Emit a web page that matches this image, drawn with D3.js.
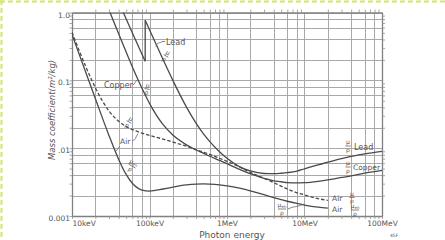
<!DOCTYPE html>
<html>
<head>
<meta charset="utf-8">
<script src="https://cdn.jsdelivr.net/npm/d3@7"></script>
<style>
  body { margin: 0; background: #fff; }
  svg text { font-family: "DejaVu Sans", sans-serif; fill: #555; }
</style>
</head>
<body>
<div id="chart"></div>
<script>
// photon energy in MeV, coefficients in m^2/kg
var leadLowEnergy = [0.04, 0.05, 0.06, 0.08, 0.088];
var leadLowMu = [1.44, 0.804, 0.502, 0.242, 0.191];
var leadHighEnergy = [0.088, 0.1, 0.15, 0.2, 0.3, 0.4, 0.5, 0.6, 0.8, 1, 1.5, 2, 3, 4, 5, 6, 8, 10, 15, 20, 30, 40, 50, 60, 80, 100];
var leadHighMu = [0.768, 0.555, 0.201, 0.0999, 0.0403, 0.0232, 0.0161, 0.0125, 0.00887, 0.0071, 0.00522, 0.00461, 0.00423, 0.0042, 0.00427, 0.00436, 0.00459, 0.00497, 0.00566, 0.00621, 0.00702, 0.00755, 0.00795, 0.00825, 0.00865, 0.00896];
var copperEnergy = [0.02, 0.03, 0.04, 0.05, 0.06, 0.08, 0.1, 0.15, 0.2, 0.3, 0.4, 0.5, 0.6, 0.8, 1, 1.5, 2, 3, 4, 5, 6, 8, 10, 15, 20, 30, 40, 50, 60, 80, 100];
var copperMu = [3.38, 1.092, 0.486, 0.261, 0.159, 0.0763, 0.0458, 0.0222, 0.0156, 0.0112, 0.0094, 0.0084, 0.0076, 0.0066, 0.0059, 0.0048, 0.0042, 0.0036, 0.0033, 0.0032, 0.0031, 0.00307, 0.0031, 0.00325, 0.0034, 0.0037, 0.0039, 0.0041, 0.0043, 0.0045, 0.0047];
var airEnergy = [0.01, 0.015, 0.02, 0.03, 0.04, 0.05, 0.06, 0.08, 0.1, 0.15, 0.2, 0.3, 0.4, 0.5, 0.6, 0.8, 1, 1.5, 2, 3, 4, 5, 6, 8, 10, 15, 20];
var airMu = [0.512, 0.161, 0.0778, 0.0354, 0.0249, 0.0208, 0.0188, 0.0166, 0.0154, 0.0136, 0.0123, 0.0107, 0.0095, 0.0087, 0.0081, 0.0071, 0.0064, 0.0052, 0.0044, 0.0036, 0.0031, 0.00275, 0.0025, 0.0022, 0.00205, 0.0018, 0.0017];
var airMuEn = [0.474, 0.133, 0.0539, 0.0154, 0.00683, 0.0041, 0.00304, 0.00241, 0.00233, 0.0025, 0.00267, 0.00287, 0.00295, 0.00297, 0.00295, 0.00288, 0.00279, 0.00255, 0.00235, 0.00206, 0.00187, 0.00174, 0.00165, 0.00153, 0.00145, 0.00135, 0.00131];

var xTickValues = [0.01, 0.1, 1, 10, 100];
var xTickLabels = ["10keV", "100keV", "1MeV", "10MeV", "100MeV"];
var yTickValues = [0.001, 0.01, 0.1, 1];
var yTickLabels = ["0.001", ".01", "0.1", "1.0"];
var gridSteps = [2, 4, 6, 8];
var minorSteps = [2, 3, 4, 5, 6, 7, 8, 9];

var width = 445;
var height = 240;
var plotLeft = 72, plotRight = 382, plotTop = 12.5, plotBottom = 216;

var svg = d3.select("#chart").append("svg")
  .attr("width", width)
  .attr("height", height);

// dashed selection border (top and left only)
svg.append("line").attr("x1", 0).attr("x2", width).attr("y1", 1.5).attr("y2", 1.5)
  .attr("stroke", "#cfe86a").attr("stroke-width", 2).attr("stroke-dasharray", "5,3");
svg.append("line").attr("x1", 1.5).attr("x2", 1.5).attr("y1", 0).attr("y2", height)
  .attr("stroke", "#cfe86a").attr("stroke-width", 2).attr("stroke-dasharray", "5,3");

var x = d3.scaleLog().domain([0.01, 100]).range([plotLeft, plotRight]);
var y = d3.scaleLog().domain([0.001, 1]).range([plotBottom, plotTop]);

function decadeValues(decades, steps) {
  var out = [];
  decades.forEach(function(d) {
    steps.forEach(function(s) { out.push(d * s); });
  });
  return out;
}

var xGrid = decadeValues([0.01, 0.1, 1, 10], gridSteps);
var yGrid = decadeValues([0.001, 0.01, 0.1], gridSteps);
var xMinor = decadeValues([0.01, 0.1, 1, 10], minorSteps);
var yMinor = decadeValues([0.001, 0.01, 0.1], minorSteps);

// grid
var grid = svg.append("g").attr("class", "grid");
grid.selectAll("line.v").data(xGrid.concat(xTickValues)).enter().append("line")
  .attr("class", "v")
  .attr("x1", function(d) { return Math.round(x(d)) + 0.5; })
  .attr("x2", function(d) { return Math.round(x(d)) + 0.5; })
  .attr("y1", plotTop).attr("y2", plotBottom)
  .attr("stroke", "#a8a8a8").attr("stroke-width", 1);
grid.selectAll("line.h").data(yGrid.concat(yTickValues)).enter().append("line")
  .attr("class", "h")
  .attr("y1", function(d) { return Math.round(y(d)) + 0.5; })
  .attr("y2", function(d) { return Math.round(y(d)) + 0.5; })
  .attr("x1", plotLeft).attr("x2", plotRight)
  .attr("stroke", "#a8a8a8").attr("stroke-width", 1);

// axes
var xAxis = d3.axisBottom(x).tickValues(xTickValues.concat(xMinor))
  .tickSizeInner(3).tickSizeOuter(0).tickPadding(1.5)
  .tickFormat(function(d) {
    var i = xTickValues.indexOf(d);
    return i >= 0 ? xTickLabels[i] : "";
  });
var yAxis = d3.axisLeft(y).tickValues(yTickValues.concat(yMinor))
  .tickSizeInner(2.5).tickSizeOuter(0).tickPadding(-0.5)
  .tickFormat(function(d) {
    var i = yTickValues.indexOf(d);
    return i >= 0 ? yTickLabels[i] : "";
  });
var xTop = d3.axisTop(x).tickValues(xMinor).tickSizeInner(3).tickSizeOuter(0).tickFormat("");
var yRight = d3.axisRight(y).tickValues(yMinor).tickSizeInner(3).tickSizeOuter(0).tickFormat("");

function styleAxis(g) {
  g.select(".domain").attr("stroke", "#808080").attr("stroke-width", 1.3);
  g.selectAll(".tick line").attr("stroke", "#909090").attr("stroke-width", 0.8);
  g.selectAll(".tick text").attr("font-size", 7.5).attr("fill", "#555")
    .style("font-family", "DejaVu Sans, sans-serif");
}

svg.append("g").attr("class", "xAxis")
  .attr("transform", "translate(0," + plotBottom + ")")
  .call(xAxis).call(styleAxis);
svg.select(".xAxis").selectAll(".tick text")
  .attr("text-anchor", function(d) { return d === 0.01 ? "start" : "middle"; });
svg.append("g").attr("class", "yAxis")
  .attr("transform", "translate(" + plotLeft + ",0)")
  .call(yAxis).call(styleAxis);
svg.select(".yAxis").selectAll(".tick text").attr("dy", "0.6em");
svg.append("g").attr("transform", "translate(0," + plotTop + ")").call(xTop).call(styleAxis);
svg.append("g").attr("transform", "translate(" + plotRight + ",0)").call(yRight).call(styleAxis);

// curves
var clip = svg.append("clipPath").attr("id", "plotClip");
clip.append("rect").attr("x", plotLeft).attr("y", plotTop)
  .attr("width", plotRight - plotLeft).attr("height", plotBottom - plotTop);
var plot = svg.append("g").attr("clip-path", "url(#plotClip)");

function pairs(es, ms) {
  return es.map(function(e, i) { return [e, ms[i]]; });
}
var smooth = d3.line()
  .x(function(d) { return x(d[0]); })
  .y(function(d) { return y(d[1]); })
  .curve(d3.curveMonotoneX);
var straight = d3.line()
  .x(function(d) { return x(d[0]); })
  .y(function(d) { return y(d[1]); });

var curveColor = "#4a4a4a";
function drawCurve(data, gen, dash) {
  plot.append("path")
    .datum(data)
    .attr("d", gen)
    .attr("fill", "none")
    .attr("stroke", curveColor)
    .attr("stroke-width", 1.3)
    .attr("stroke-dasharray", dash || null);
}

drawCurve(pairs(leadLowEnergy, leadLowMu), smooth);
drawCurve([[leadLowEnergy[leadLowEnergy.length - 1], leadLowMu[leadLowMu.length - 1]],
           [leadHighEnergy[0], leadHighMu[0]]], straight);
drawCurve(pairs(leadHighEnergy, leadHighMu), smooth);
drawCurve(pairs(copperEnergy, copperMu), smooth);
drawCurve(pairs(airEnergy, airMu), smooth, "3.5,2");
drawCurve(pairs(airEnergy, airMuEn), smooth);

// annotations
var notes = svg.append("g").attr("class", "notes");

// small stacked mu over rho
function fraction(px, py, en, angle) {
  var g = notes.append("g")
    .attr("transform", "translate(" + px + "," + py + ") rotate(" + (angle || 0) + ")");
  var t = g.append("text").attr("text-anchor", "middle").attr("y", -1.8).attr("font-size", 6);
  t.append("tspan").text("μ");
  if (en) {
    t.append("tspan").attr("font-size", 4).attr("dy", 0.8).text("en");
  }
  g.append("line").attr("x1", en ? -4 : -2.6).attr("x2", en ? 4 : 2.6)
    .attr("y1", 0).attr("y2", 0).attr("stroke", "#555").attr("stroke-width", 0.7);
  g.append("text").attr("text-anchor", "middle").attr("y", 5.6).attr("font-size", 6).text("ρ");
}

function label(px, py, txt, size) {
  notes.append("text").attr("x", px).attr("y", py).attr("font-size", size || 8).text(txt);
}

function leader(d) {
  notes.append("path").attr("d", d).attr("fill", "none")
    .attr("stroke", "#666").attr("stroke-width", 0.8);
}

// left side
label(166, 45, "Lead");
leader("M156,47 C157,41 160,44 162,41.5 L165,41.5");
fraction(166, 56, false, 30);
label(104, 88, "Copper");
leader("M133,85 C135,84 135,81 138,79.5");
fraction(147, 89, false, 10);
label(120, 144, "Air", 7.5);
leader("M132,141 C134,139 135,141 136,137 L138,133.5");
leader("M120,146 L116,151");
fraction(129, 122, false, 30);
fraction(132, 166, true, 30);

// right side
fraction(348, 146, false, 0);
label(354, 150, "Lead");
fraction(348, 167, false, 0);
label(353, 170, "Copper", 7.5);
label(332, 201, "Air", 7.5);
fraction(352, 197.5, false, 0);
label(332, 212, "Air", 7.5);
fraction(355, 210, true, 0);
fraction(282, 209, true, 0);
leader("M288,209 C293,206 297,207.5 304,204");

// axis titles
svg.append("text")
  .attr("transform", "translate(55,110) rotate(-90)")
  .attr("text-anchor", "middle")
  .attr("font-size", 8.5)
  .attr("font-style", "italic")
  .text("Mass coefficient(m²/kg)");
svg.append("text")
  .attr("x", 232).attr("y", 238)
  .attr("text-anchor", "middle")
  .attr("font-size", 9)
  .text("Photon energy");
svg.append("text")
  .attr("x", 390).attr("y", 237)
  .attr("font-size", 4.5)
  .text("45F");
</script>
</body>
</html>
